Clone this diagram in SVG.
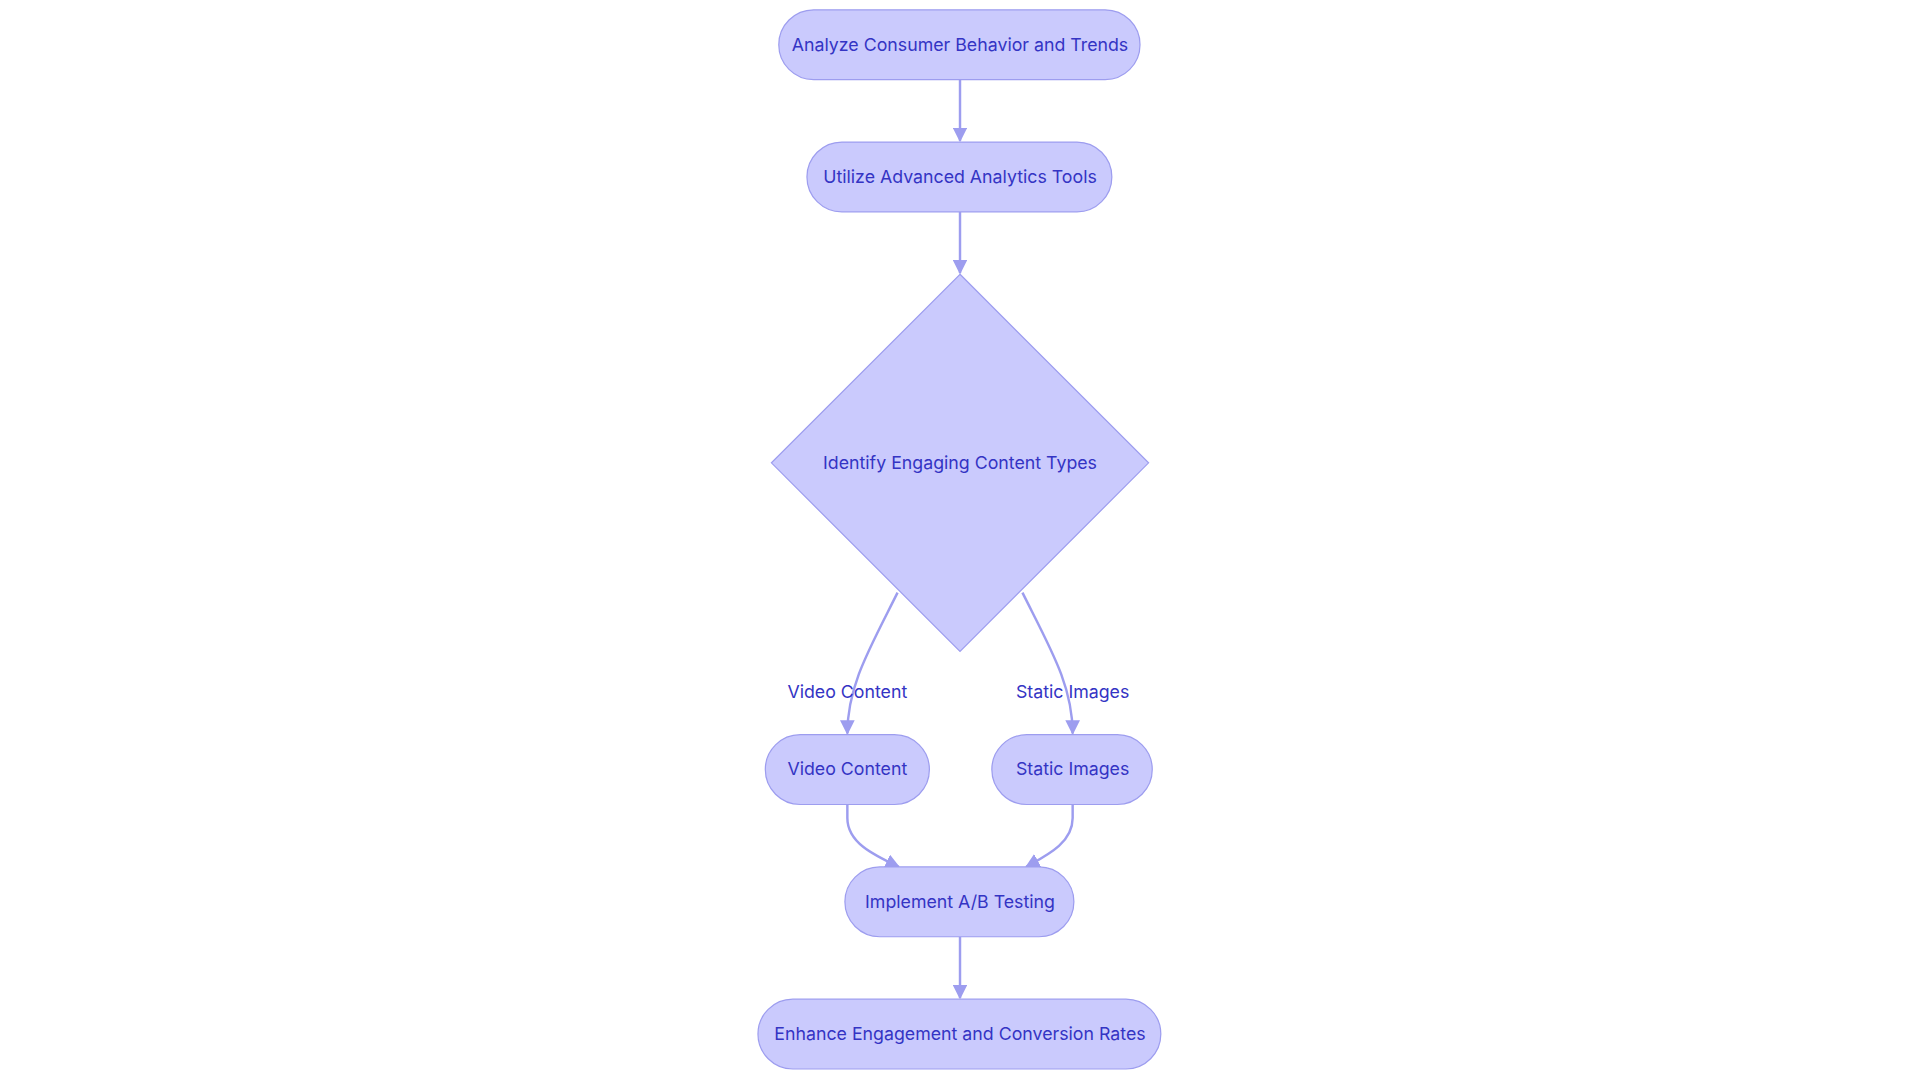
<svg xmlns="http://www.w3.org/2000/svg" width="1920" height="1083" viewBox="0 0 1920 1083">
<style>
.n{fill:#cacafd;stroke:#9d9def;stroke-width:1}
.t{font-family:Inter,"Noto Sans",sans-serif;font-size:14.5px;fill:#3434c4;text-anchor:middle;dominant-baseline:central}
.e{fill:none;stroke:#9d9def;stroke-width:2}
</style>
<defs><marker id="a" viewBox="0 0 10 10" refX="9" refY="5" markerWidth="6" markerHeight="6" orient="auto"><path d="M0,0L10,5L0,10z" fill="#9d9def"/></marker></defs>
<rect width="1920" height="1083" fill="#fff"/>
<g transform="scale(1.2245)">
<g id="connectors">
<path class="e" d="M784,65V115" marker-end="url(#a)"/>
<path class="e" d="M784,173V223" marker-end="url(#a)"/>
<path class="e" d="M733,484C710,530 692,560 692,599" marker-end="url(#a)"/>
<path class="e" d="M835,484C858,530 876,560 876,599" marker-end="url(#a)"/>
<path class="e" d="M692,657V668C692,688 713,698 734,708" marker-end="url(#a)"/>
<path class="e" d="M876,657V668C876,688 856,698 838,708" marker-end="url(#a)"/>
<path class="e" d="M784,765V815" marker-end="url(#a)"/>
<text class="t" x="692" y="565">Video Content</text>
<text class="t" x="876" y="565">Static Images</text>
</g>
<g id="n1"><rect class="n" x="636" y="8" width="295" height="57" rx="28.5"/><text class="t" x="784" y="36">Analyze Consumer Behavior and Trends</text></g>
<g id="n2"><rect class="n" x="659" y="116" width="249" height="57" rx="28.5"/><text class="t" x="784" y="144">Utilize Advanced Analytics Tools</text></g>
<g id="n3"><path class="n" d="M784,224L938,378L784,532L630,378Z"/><text class="t" x="784" y="378">Identify Engaging Content Types</text></g>
<g id="n4"><rect class="n" x="625" y="600" width="134" height="57" rx="28.5"/><text class="t" x="692" y="628">Video Content</text></g>
<g id="n5"><rect class="n" x="810" y="600" width="131" height="57" rx="28.5"/><text class="t" x="876" y="628">Static Images</text></g>
<g id="n6"><rect class="n" x="690" y="708" width="187" height="57" rx="28.5"/><text class="t" x="784" y="736">Implement A/B Testing</text></g>
<g id="n7"><rect class="n" x="619" y="816" width="329" height="57" rx="28.5"/><text class="t" x="784" y="844">Enhance Engagement and Conversion Rates</text></g>
</g>
</svg>
